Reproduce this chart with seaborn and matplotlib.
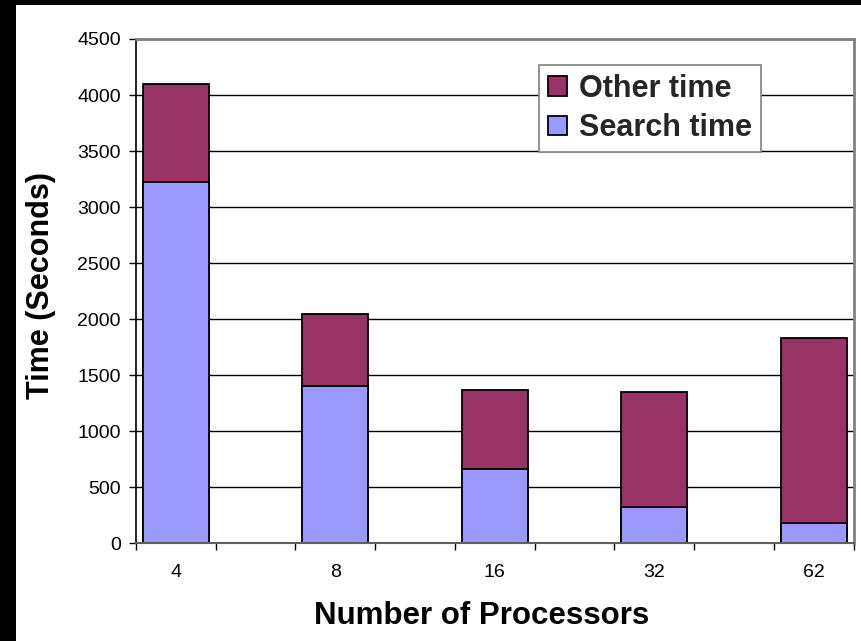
import matplotlib
matplotlib.use("Agg")
import matplotlib.pyplot as plt
from matplotlib.patches import Patch, Rectangle
from matplotlib.ticker import FixedLocator
import numpy as np
import pandas as pd
import seaborn as sns

# Run times per processor count
processors = ["4", "8", "16", "32", "62"]
search_time = [3220, 1400, 660, 320, 180]
other_time = [880, 650, 710, 1030, 1655]
y_ticks = [0, 500, 1000, 1500, 2000, 2500, 3000, 3500, 4000, 4500]

OTHER_COLOR = "#993366"
SEARCH_COLOR = "#9999FF"

total_time = [s + o for s, o in zip(search_time, other_time)]
df = pd.DataFrame({"processors": processors,
                   "search": search_time,
                   "total": total_time})

# empty slots between the processor counts
slots = []
for i, p in enumerate(processors):
    slots.append(p)
    if i < len(processors) - 1:
        slots.append(f"_slot{i}")

sns.set_theme(style="white")
plt.rcParams["font.family"] = ["Liberation Sans", "DejaVu Sans"]

fig = plt.figure(figsize=(8.61, 6.41), dpi=100)
ax = fig.add_axes([136 / 861, 1 - 543.3 / 641, 717.5 / 861, 504.3 / 641])

ax.set_axisbelow(True)
ax.yaxis.grid(True, color="black", linewidth=1.0)

bar_kw = dict(order=slots, width=0.83, saturation=1, edgecolor="black",
              linewidth=1.3, ax=ax)
sns.barplot(data=df, x="processors", y="total", color=OTHER_COLOR, **bar_kw)
sns.barplot(data=df, x="processors", y="search", color=SEARCH_COLOR, **bar_kw)

ax.set_xlim(-0.5, len(slots) - 0.5)
ax.set_ylim(0, 4500)
ax.set_yticks(y_ticks)
ax.set_yticklabels([str(v) for v in y_ticks])
ax.set_xticks(range(0, len(slots), 2))
ax.set_xticklabels(processors)
ax.xaxis.set_minor_locator(FixedLocator(np.arange(-0.5, len(slots), 1.0)))

ax.tick_params(axis="x", which="major", length=0, pad=15, labelsize=14,
               colors="black")
ax.tick_params(axis="x", which="minor", length=5, width=1, color="black",
               direction="out", bottom=True)
ax.tick_params(axis="y", which="major", length=5, width=1, color="black",
               direction="out", left=True, pad=6, labelsize=14,
               labelcolor="black")

for side in ("top", "right"):
    ax.spines[side].set_color("#808080")
    ax.spines[side].set_linewidth(2)
ax.spines["left"].set_color("black")
ax.spines["left"].set_linewidth(1.2)
ax.spines["bottom"].set_color("#606060")
ax.spines["bottom"].set_linewidth(1.5)

ax.set_xlabel("Number of Processors", fontsize=22.5, fontweight="bold",
              color="black")
ax.xaxis.set_label_coords(0.482, -0.145)
ax.xaxis.label.set_va("center")
ax.set_ylabel("Time (Seconds)", fontsize=22, fontweight="bold", color="black")
ax.yaxis.set_label_coords(-0.1324, 0.512)
ax.yaxis.label.set_va("center")

handles = [Patch(facecolor=OTHER_COLOR, edgecolor="black", linewidth=1.3),
           Patch(facecolor=SEARCH_COLOR, edgecolor="black", linewidth=1.3)]
leg = ax.legend(handles, ["Other time", "Search time"],
                loc="upper left", bbox_to_anchor=(0.5617, 0.9484),
                borderaxespad=0,
                prop={"weight": "bold", "size": 22},
                handlelength=0.62, handleheight=0.62, handletextpad=0.42,
                labelspacing=0.32, borderpad=0.28, fancybox=False,
                framealpha=1, edgecolor="#808080")
leg.get_frame().set_linewidth(1.2)

# dark frame strips along the left and top edges
fig.patches.append(Rectangle((0, 0), 16 / 861, 1, transform=fig.transFigure,
                             facecolor="black", edgecolor="none", zorder=10))
fig.patches.append(Rectangle((0, 1 - 4.7 / 641), 1, 4.7 / 641,
                             transform=fig.transFigure, facecolor="black",
                             edgecolor="none", zorder=10))

fig.savefig("out.png", dpi=100, facecolor="white")
